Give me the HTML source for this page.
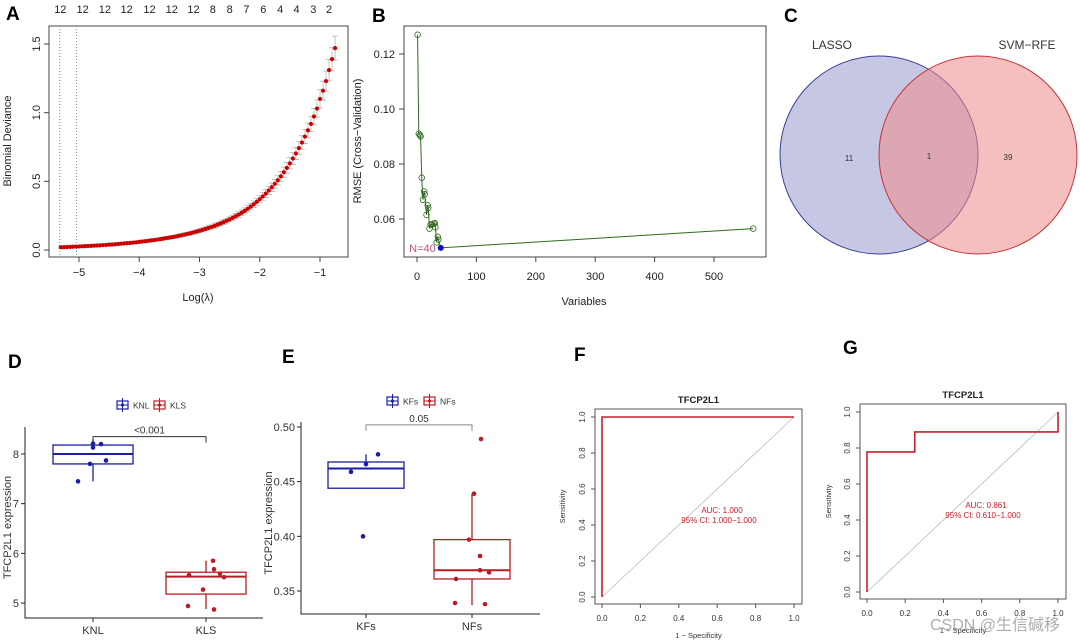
<!DOCTYPE html>
<html><head><meta charset="utf-8"><style>
html,body{margin:0;padding:0;background:#fff;}
svg{display:block;font-family:"Liberation Sans","Noto Sans CJK SC",sans-serif;}
</style></head><body>
<svg id="fig" width="1080" height="642" viewBox="0 0 1080 642" xmlns="http://www.w3.org/2000/svg">
<rect width="1080" height="642" fill="#fff"/>
<g font-weight="bold" font-size="19" fill="#000">
<text x="6" y="20">A</text>
<text x="372" y="22">B</text>
<text x="784" y="22">C</text>
<text x="8" y="368">D</text>
<text x="282" y="363">E</text>
<text x="574" y="361">F</text>
<text x="843" y="354">G</text>
</g>
<g id="pa"></g>
<g id="pb"></g>
<g id="pc">
<circle cx="879" cy="155" r="99" fill="#8c90c8" fill-opacity="0.5" stroke="#3a3f98" stroke-width="1"/>
<circle cx="978" cy="155" r="99" fill="#ef8a8a" fill-opacity="0.55" stroke="#c8323a" stroke-width="1"/>
<text x="832" y="49" font-size="12" fill="#333" text-anchor="middle">LASSO</text>
<text x="1027" y="49" font-size="12" fill="#333" text-anchor="middle">SVM−RFE</text>
<text x="849" y="161" font-size="8" fill="#333" text-anchor="middle">11</text>
<text x="929" y="159" font-size="8" fill="#333" text-anchor="middle">1</text>
<text x="1008" y="160" font-size="8" fill="#333" text-anchor="middle">39</text>
</g>
<g id="pd"></g>
<g id="pe"></g>
<g id="pf"></g>
<g id="pg"></g>
<text x="930" y="630" font-size="16" fill="#999" fill-opacity="0.8">CSDN @生信碱移</text>
</svg>
<script>
// ---- Panel A data ----
const lamStart = -5.30, lamStep = 0.05;
const devValues = [.020,.021,.022,.023,.024,.025,.026,.027,.028,.029,.030,.032,.033,.034,.036,.037,.039,.040,.042,.044,.046,.048,.050,.052,.054,.056,.059,.062,.064,.067,.070,.073,.076,.079,.083,.087,.090,.094,.098,.103,.107,.112,.117,.122,.128,.134,.140,.147,.154,.161,.168,.176,.185,.194,.203,.213,.223,.234,.246,.258,.271,.285,.300,.316,.333,.351,.370,.390,.411,.433,.457,.482,.508,.536,.566,.598,.631,.666,.703,.742,.783,.826,.871,.918,.972,1.03,1.10,1.16,1.23,1.31,1.39,1.47];
const topLabels = ["12","12","12","12","12","12","12","8","8","7","6","4","4","3","2"];
const topLabelLam = [-5.31,-4.94,-4.57,-4.21,-3.83,-3.46,-3.10,-2.78,-2.50,-2.22,-1.94,-1.66,-1.39,-1.11,-0.85];
const aXTicks = [-5,-4,-3,-2,-1];
const aYTicks = [0,0.5,1.0,1.5];
const lamMin = -5.32, lam1se = -5.04;

// ---- Panel B data ----
const bVars = [1,3,5,6,8,10,12,13,16,18,19,21,23,25,28,30,31,33,35,36,40,566];
const bRmse = [.127,.091,.0905,.090,.075,.067,.070,.069,.0615,.065,.064,.0565,.058,.058,.0583,.0585,.057,.0515,.0535,.0525,.0495,.0565];
const bBestIndex = 20;
const bXTicks = [0,100,200,300,400,500];
const bYTicks = [0.06,0.08,0.10,0.12];

// ---- Panel D data ----
const dGroups = ["KNL","KLS"];
const dBoxes = [{q1:7.8,med:8.0,q3:8.18,lo:7.45,hi:8.3},{q1:5.18,med:5.53,q3:5.62,lo:4.88,hi:5.85}];
const dPtsKNL = [7.45,7.8,8.13,8.21,8.2,7.87];
const dJitKNL = [-15,-3,0,0,8,13];
const dPtsKLS = [4.94,5.27,5.56,5.85,5.68,5.59,5.52,4.87];
const dJitKLS = [-18,-3,-17,7,8,14,18,8];
const dYTicks = [5,6,7,8];

// ---- Panel E data ----
const eGroups = ["KFs","NFs"];
const eBoxes = [{q1:.444,med:.462,q3:.468,lo:.444,hi:.475},{q1:.361,med:.369,q3:.397,lo:.337,hi:.439}];
const ePtsKF = [.459,.466,.475,.40];
const eJitKF = [-15,0,12,-3];
const ePtsNF = [.489,.439,.397,.382,.369,.367,.361,.339,.338];
const eJitNF = [9,2,-3,8,8,17,-16,-17,13];
const eYTicks = [.35,.40,.45,.50];

// ---- ROC data ----
const fFpr = [0,0,1]; const fTpr = [0,1,1];
const gFpr = [0,0,0.25,0.25,1,1]; const gTpr = [0,0.778,0.778,0.889,0.889,1];
const rocTicks = [0,0.2,0.4,0.6,0.8,1.0];

const NS="http://www.w3.org/2000/svg";
function mk(parent,tag,attrs,text){const e=document.createElementNS(NS,tag);for(const k in attrs)e.setAttribute(k,attrs[k]);if(text!==undefined)e.textContent=text;parent.appendChild(e);return e;}
function lin(d0,d1,r0,r1){return v=>r0+(v-d0)*(r1-r0)/(d1-d0);}

// ===== Panel A =====
(function(){
 const g=document.getElementById('pa');
 const X=lin(-5,-1,79,320), Y=lin(0,1.5,250,44);
 let el=mk(g,'rect',{x:49,y:26,width:299,height:231,fill:'none',stroke:'#444','stroke-width':1});
  
 [lamMin,lam1se].forEach(v=>{const l=mk(g,'line',{x1:X(v),x2:X(v),y1:26,y2:257,stroke:'#888','stroke-dasharray':'1,2'});
   });
 devValues.forEach((v,i)=>{const x=X(lamStart+i*lamStep);const e=0.006+v*0.055;
  const b=mk(g,'path',{d:`M${x},${Y(v+e)}V${Y(v-e)}M${x-3},${Y(v+e)}h6M${x-3},${Y(v-e)}h6`,stroke:'#aaa','stroke-width':0.7,fill:'none'});
   });
 devValues.forEach((v,i)=>{const c=mk(g,'circle',{cx:X(lamStart+i*lamStep),cy:Y(v),r:2.1,fill:'#cc0000'});
   });
 aXTicks.forEach(t=>{mk(g,'line',{x1:X(t),x2:X(t),y1:257,y2:262,stroke:'#444'});
  const tx=mk(g,'text',{x:X(t),y:276,'font-size':11,'text-anchor':'middle',fill:'#222'},(t<0?'−':'')+Math.abs(t));
   });
 aYTicks.forEach(t=>{mk(g,'line',{x1:44,x2:49,y1:Y(t),y2:Y(t),stroke:'#444'});
  const tx=mk(g,'text',{x:0,y:0,'font-size':11,'text-anchor':'middle',fill:'#222',transform:`translate(40,${Y(t)}) rotate(-90)`},t.toFixed(1));
   });
 topLabels.forEach((s,i)=>{const tx=mk(g,'text',{x:X(topLabelLam[i]),y:13,'font-size':11,'text-anchor':'middle',fill:'#222'},s);
   });
 let t=mk(g,'text',{x:198,y:301,'font-size':11,'text-anchor':'middle',fill:'#222'},'Log(λ)');
  
 t=mk(g,'text',{x:0,y:0,'font-size':11,'text-anchor':'middle',fill:'#222',transform:'translate(11,141) rotate(-90)'},'Binomial Deviance');
  
})();

// ===== Panel B =====
(function(){
 const g=document.getElementById('pb');
 const X=lin(0,500,417,714), Y=lin(0.06,0.12,219,54);
 let el=mk(g,'rect',{x:404,y:26,width:362,height:231,fill:'none',stroke:'#444'});
  
 const d=bVars.map((v,i)=>(i?'L':'M')+X(v)+','+Y(bRmse[i])).join('');
 el=mk(g,'path',{d:d,fill:'none',stroke:'#2e6b1e','stroke-width':1});
  
 bVars.forEach((v,i)=>{if(i===bBestIndex)return;const c=mk(g,'circle',{cx:X(v),cy:Y(bRmse[i]),r:2.8,fill:'none',stroke:'#2e6b1e','stroke-width':0.8});
   });
 el=mk(g,'circle',{cx:X(bVars[bBestIndex]),cy:Y(bRmse[bBestIndex]),r:3,fill:'#1010c0'});
  
 el=mk(g,'text',{x:X(bVars[bBestIndex])-5,y:Y(bRmse[bBestIndex])+4,'font-size':11,'text-anchor':'end',fill:'#c0577a'},'N='+bVars[bBestIndex]);
  
 bXTicks.forEach(t=>{mk(g,'line',{x1:X(t),x2:X(t),y1:257,y2:262,stroke:'#444'});
  const tx=mk(g,'text',{x:X(t),y:280,'font-size':11,'text-anchor':'middle',fill:'#222'},t);
   });
 bYTicks.forEach(t=>{mk(g,'line',{x1:399,x2:404,y1:Y(t),y2:Y(t),stroke:'#444'});
  const tx=mk(g,'text',{x:395,y:Y(t)+4,'font-size':11,'text-anchor':'end',fill:'#222'},t.toFixed(2));
   });
 let t=mk(g,'text',{x:584,y:305,'font-size':11,'text-anchor':'middle',fill:'#222'},'Variables');
  
 t=mk(g,'text',{x:0,y:0,'font-size':11,'text-anchor':'middle',fill:'#222',transform:'translate(361,141) rotate(-90)'},'RMSE (Cross−Validation)');
  
})();

// ===== Boxplots =====
function boxPanel(g,cfg){
 const Y=lin(cfg.t0,cfg.t1,cfg.y0,cfg.y1);
 let el=mk(g,'path',{d:`M${cfg.ax},${cfg.top}V${cfg.bot}H${cfg.right}`,fill:'none',stroke:'#222','stroke-width':1});
  
 cfg.ticks.forEach(t=>{mk(g,'line',{x1:cfg.ax-4,x2:cfg.ax,y1:Y(t),y2:Y(t),stroke:'#222'});
  const tx=mk(g,'text',{x:cfg.ax-6,y:Y(t)+4,'font-size':11,'text-anchor':'end',fill:'#333'},cfg.fmt(t));
   });
 const cols=['#1a1fa0','#b81c24'];
 cfg.groups.forEach((name,i)=>{const cx=cfg.xs[i],b=cfg.boxes[i],c=cols[i],hw=cfg.hw;
  mk(g,'line',{x1:cx,x2:cx,y1:cfg.bot,y2:cfg.bot+4,stroke:'#222'});
  const tx=mk(g,'text',{x:cx,y:cfg.bot+16,'font-size':11,'text-anchor':'middle',fill:'#333'},name);
   
  const w=mk(g,'path',{d:`M${cx},${Y(b.hi)}V${Y(b.q3)}M${cx},${Y(b.q1)}V${Y(b.lo)}`,stroke:c,'stroke-width':1.3,fill:'none'});
   
  const r=mk(g,'rect',{x:cx-hw,y:Y(b.q3),width:2*hw,height:Y(b.q1)-Y(b.q3),fill:'#fff',stroke:c,'stroke-width':1.3});
   
  const m=mk(g,'line',{x1:cx-hw,x2:cx+hw,y1:Y(b.med),y2:Y(b.med),stroke:c,'stroke-width':2});
   
  cfg.pts[i].forEach((v,j)=>{const p=mk(g,'circle',{cx:cx+cfg.jit[i][j],cy:Y(v),r:2.3,fill:c});
    });
 });
 const by=Y(cfg.brY);
 el=mk(g,'path',{d:`M${cfg.xs[0]},${by+6}V${by}H${cfg.xs[1]}V${by+6}`,fill:'none',stroke:cfg.brCol,'stroke-width':1});
  
 el=mk(g,'text',{x:(cfg.xs[0]+cfg.xs[1])/2,y:by-3,'font-size':10,'text-anchor':'middle',fill:'#333'},cfg.pval);
  
 // legend
 const lx=cfg.legX, ly=cfg.legY;
 cfg.groups.forEach((name,i)=>{const x=lx+i*cfg.legGap;
  const gg=mk(g,'g',{});
   
  mk(gg,'rect',{x:x,y:ly-4,width:11,height:8,fill:'#fff',stroke:cols[i],'stroke-width':1.2});
  mk(gg,'line',{x1:x+5.5,x2:x+5.5,y1:ly-7,y2:ly+7,stroke:cols[i]});
  mk(gg,'line',{x1:x,x2:x+11,y1:ly,y2:ly,stroke:cols[i]});
  mk(gg,'circle',{cx:x+5.5,cy:ly,r:1.6,fill:cols[i]});
  mk(gg,'text',{x:x+16,y:ly+3.5,'font-size':8.5,fill:'#333'},name);
 });
 el=mk(g,'text',{x:0,y:0,'font-size':11,'text-anchor':'middle',fill:'#333',transform:`translate(${cfg.ytx},${(cfg.top+cfg.bot)/2+5}) rotate(-90)`},'TFCP2L1 expression');
  
}
boxPanel(document.getElementById('pd'),{t0:5,t1:8,y0:603,y1:454,top:427,bot:618,ax:25,right:263,ticks:dYTicks,fmt:t=>String(t),
 groups:dGroups,xs:[93,206],hw:40,boxes:dBoxes,pts:[dPtsKNL,dPtsKLS],jit:[dJitKNL,dJitKLS],brY:8.35,brCol:'#333',pval:'<0.001',
 legX:117,legY:405,legGap:37,ytx:11});
boxPanel(document.getElementById('pe'),{t0:.35,t1:.50,y0:591,y1:427,top:422,bot:614,ax:301,right:540,ticks:eYTicks,fmt:t=>t.toFixed(2),
 groups:eGroups,xs:[366,472],hw:38,boxes:eBoxes,pts:[ePtsKF,ePtsNF],jit:[eJitKF,eJitNF],brY:.502,brCol:'#888',pval:'0.05',
 legX:387,legY:401,legGap:37,ytx:272});

// ===== ROC =====
function rocPanel(g,c){
 const X=lin(0,1,c.x0,c.x1), Y=lin(0,1,c.y0,c.y1);
 let el=mk(g,'rect',{x:c.bx,y:c.by,width:c.bw,height:c.bh,fill:'none',stroke:'#555'});
  
 el=mk(g,'line',{x1:X(0),y1:Y(0),x2:X(1),y2:Y(1),stroke:'#bbb','stroke-width':0.8});
  
 el=mk(g,'path',{d:c.fpr.map((v,i)=>(i?'L':'M')+X(v)+','+Y(c.tpr[i])).join(''),fill:'none',stroke:'#c8202a','stroke-width':1.6});
  
 rocTicks.forEach(t=>{mk(g,'line',{x1:X(t),x2:X(t),y1:c.by+c.bh,y2:c.by+c.bh+4,stroke:'#555'});
  let tx=mk(g,'text',{x:X(t),y:c.by+c.bh+17,'font-size':8,'text-anchor':'middle',fill:'#333'},t.toFixed(1));
   
  mk(g,'line',{x1:c.bx-4,x2:c.bx,y1:Y(t),y2:Y(t),stroke:'#555'});
  tx=mk(g,'text',{x:0,y:0,'font-size':8,'text-anchor':'middle',fill:'#333',transform:`translate(${c.bx-10},${Y(t)}) rotate(-90)`},t.toFixed(1));
   });
 el=mk(g,'text',{x:c.bx+c.bw/2,y:c.by-6,'font-size':9.5,'font-weight':'bold','text-anchor':'middle',fill:'#222'},'TFCP2L1');
  
 el=mk(g,'text',{x:c.ax,y:c.ay,'font-size':8,'text-anchor':'middle',fill:'#c8202a'},c.auc);
  
 el=mk(g,'text',{x:c.ax-3,y:c.ay+10,'font-size':8,'text-anchor':'middle',fill:'#c8202a'},c.ci);
  
 el=mk(g,'text',{x:c.bx+c.bw/2,y:c.xty,'font-size':7.5,'text-anchor':'middle',fill:'#333'},'1 − Specificity');
  
 el=mk(g,'text',{x:0,y:0,'font-size':7.5,'text-anchor':'middle',fill:'#333',transform:`translate(${c.ytx},${c.by+c.bh/2}) rotate(-90)`},'Sensitivity');
  
}
rocPanel(document.getElementById('pf'),{x0:602,x1:794,y0:597,y1:417,bx:595,by:409,bw:207,bh:195,fpr:fFpr,tpr:fTpr,
 auc:'AUC: 1.000',ci:'95% CI: 1.000−1.000',ax:722,ay:513,xty:638,ytx:565});
rocPanel(document.getElementById('pg'),{x0:867,x1:1058,y0:592,y1:412,bx:860,by:404,bw:206,bh:195,fpr:gFpr,tpr:gTpr,
 auc:'AUC: 0.861',ci:'95% CI: 0.610−1.000',ax:986,ay:508,xty:633,ytx:831});
</script>
</body></html>
